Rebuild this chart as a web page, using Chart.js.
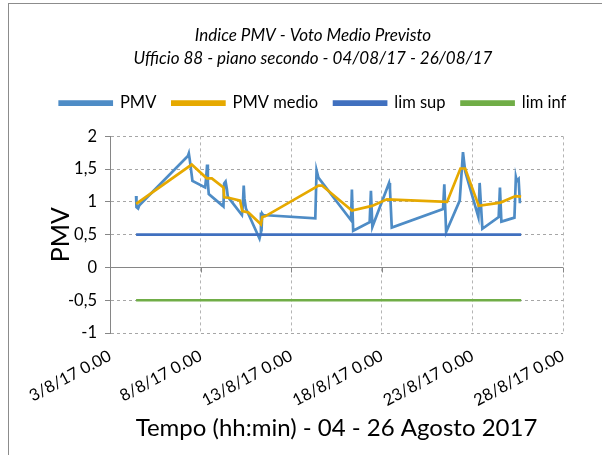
<!DOCTYPE html>
<html>
<head>
<meta charset="utf-8">
<script src="https://cdn.jsdelivr.net/npm/chart.js@4.4.1/dist/chart.umd.min.js"></script>
<style>
  html, body { margin: 0; padding: 0; background: #fff; overflow: hidden; }
  #wrap { position: relative; width: 602px; height: 455px; }
  #frame { position: absolute; left: 8px; top: 3px; width: 640px; height: 480px; border: 1px solid #8c8c8c; }
  canvas { position: absolute; left: 0; top: 0; }
</style>
</head>
<body>
<div id="wrap">
  <div id="frame"></div>
  <canvas id="pmvChart" width="602" height="455"></canvas>
</div>
<script>
// x values are days of August 2017
const tickDays = [3, 8, 13, 18, 23, 28];

const pmvDays = [4.44, 4.46, 4.55, 4.62, 7.30, 7.35, 7.40, 7.55, 8.25, 8.30, 8.36, 8.40, 8.45,
  9.22, 9.26, 9.30, 9.38, 9.45, 9.50, 10.28, 10.33, 10.38, 10.42, 10.50, 11.25, 11.30, 11.33,
  11.36, 11.40, 11.45, 14.33, 14.40, 14.50, 16.30, 16.35, 16.42, 17.33, 17.40, 17.48, 18.40,
  18.45, 18.55, 21.38, 21.45, 21.55, 22.30, 22.48, 22.60, 23.33, 23.40, 23.55, 24.45, 24.52,
  24.60, 25.32, 25.40, 25.45, 25.55, 25.62, 25.69];
const pmvValues = [1.09, 0.92, 0.90, 0.95, 1.70, 1.74, 1.65, 1.32, 1.22, 1.35, 1.57, 1.30, 1.12,
  0.94, 0.93, 1.28, 1.31, 1.20, 1.08, 0.80, 0.95, 1.25, 1.05, 0.90, 0.44, 0.50, 0.84,
  0.55, 0.82, 0.80, 0.75, 1.48, 1.37, 0.72, 1.19, 0.56, 0.69, 1.17, 0.62, 1.29,
  1.20, 0.61, 0.89, 1.27, 0.54, 1.02, 1.76, 1.47, 0.77, 1.29, 0.59, 0.77, 1.22,
  0.70, 0.76, 1.38, 1.32, 1.35, 1.00, 1.00];

const medioDays = [4.44, 7.51, 8.34, 8.62, 9.26, 9.30, 9.60, 10.18, 10.30, 10.64, 11.33, 11.40,
  11.56, 14.51, 14.70, 16.35, 17.46, 18.28, 21.60, 22.34, 22.60, 23.35, 24.55, 25.38, 25.69];
const medioValues = [0.97, 1.57, 1.36, 1.36, 1.22, 1.07, 1.06, 1.02, 0.86, 0.84, 0.66, 0.77,
  0.78, 1.25, 1.25, 0.87, 0.94, 1.04, 1.00, 1.51, 1.51, 0.94, 0.99, 1.09, 1.08];

const limDays = [4.44, 25.69];
const limSupValues = [0.5, 0.5];
const limInfValues = [-0.5, -0.5];

const FONT = "Lato";
const toPoints = (xs, ys) => xs.map((x, i) => ({ x, y: ys[i] }));
const commaNum = (v) => String(v).replace(".", ",");

// solid horizontal axis crossing at y = 0, with small tick marks
const zeroAxis = {
  id: "zeroAxis",
  beforeDatasetsDraw(chart) {
    const { ctx, chartArea: area, scales } = chart;
    const y0 = Math.round(scales.y.getPixelForValue(0)) + 0.5;
    ctx.save();
    ctx.strokeStyle = "#868686";
    ctx.lineWidth = 1;
    ctx.beginPath();
    ctx.moveTo(area.left, y0);
    ctx.lineTo(area.right, y0);
    tickDays.forEach((d) => {
      const px = Math.round(scales.x.getPixelForValue(d)) + 0.5;
      ctx.moveTo(px, y0);
      ctx.lineTo(px, y0 + 5);
    });
    ctx.stroke();
    ctx.restore();
  },
};

// extra room between legend and plot
const legendGap = {
  id: "legendGap",
  beforeInit(chart) {
    const fit = chart.legend.fit;
    chart.legend.fit = function () {
      fit.bind(chart.legend)();
      this.height += 15;
    };
  },
};

const lineSet = (label, data, color, order) => ({
  label,
  data,
  borderColor: color,
  backgroundColor: color,
  borderWidth: 2.7,
  pointRadius: 0,
  tension: 0,
  order,
});

new Chart(document.getElementById("pmvChart"), {
  type: "line",
  data: {
    datasets: [
      lineSet("PMV", toPoints(pmvDays, pmvValues), "#4e8cc6", 3),
      lineSet("PMV medio", toPoints(medioDays, medioValues), "#e6a900", 2),
      lineSet("lim sup", toPoints(limDays, limSupValues), "#4070bf", 1),
      lineSet("lim inf", toPoints(limDays, limInfValues), "#70ad47", 0),
    ],
  },
  options: {
    responsive: false,
    devicePixelRatio: 1,
    animation: false,
    layout: { padding: { left: 24, right: 0, top: 0, bottom: 8 } },
    plugins: {
      title: {
        display: true,
        text: ["Indice PMV - Voto Medio Previsto", "Ufficio 88 - piano secondo - 04/08/17 - 26/08/17"],
        color: "#000",
        font: { family: FONT, size: 17, style: "italic", weight: "normal", lineHeight: 1.35 },
        padding: { top: 24, bottom: 9 },
      },
      legend: {
        labels: {
          color: "#000",
          font: { family: FONT, size: 16.5 },
          boxWidth: 52,
          boxHeight: 3,
          padding: 16,
          sort: (a, b) => a.datasetIndex - b.datasetIndex,
        },
      },
      tooltip: { enabled: false },
    },
    scales: {
      x: {
        type: "linear",
        min: 3,
        max: 28,
        afterBuildTicks: (s) => { s.ticks = tickDays.map((value) => ({ value })); },
        afterFit: (s) => { s.height = 455 - 333 - 8; },
        ticks: {
          minRotation: 28,
          maxRotation: 28,
          padding: 13,
          color: "#000",
          font: { family: FONT, size: 16.5 },
          callback: (v) => v + "/8/17 0.00",
        },
        grid: { color: "#b4b4b4", drawTicks: false },
        border: { display: false, dash: [3, 3] },
        title: {
          display: true,
          text: "Tempo (hh:min) - 04 - 26 Agosto 2017",
          color: "#000",
          font: { family: FONT, size: 24 },
        },
      },
      y: {
        min: -1,
        max: 2,
        afterFit: (s) => { s.width = 110 - 24; },
        ticks: {
          stepSize: 0.5,
          color: "#000",
          padding: 8,
          font: { family: FONT, size: 16.5 },
          callback: (v) => commaNum(v),
        },
        grid: { color: "#a6a6a6", tickColor: "#868686", tickLength: 5, tickBorderDash: [] },
        border: { display: true, color: "#868686", dash: [3, 3] },
        title: {
          display: true,
          text: "PMV",
          color: "#000",
          font: { family: FONT, size: 25 },
          padding: { top: 22, bottom: 0 },
        },
      },
      yRight: {
        position: "right",
        display: true,
        grid: { display: false },
        ticks: { display: false },
        border: { display: false },
        afterFit: (s) => { s.width = 602 - 563; },
      },
    },
  },
  plugins: [zeroAxis, legendGap],
});
</script>
</body>
</html>
